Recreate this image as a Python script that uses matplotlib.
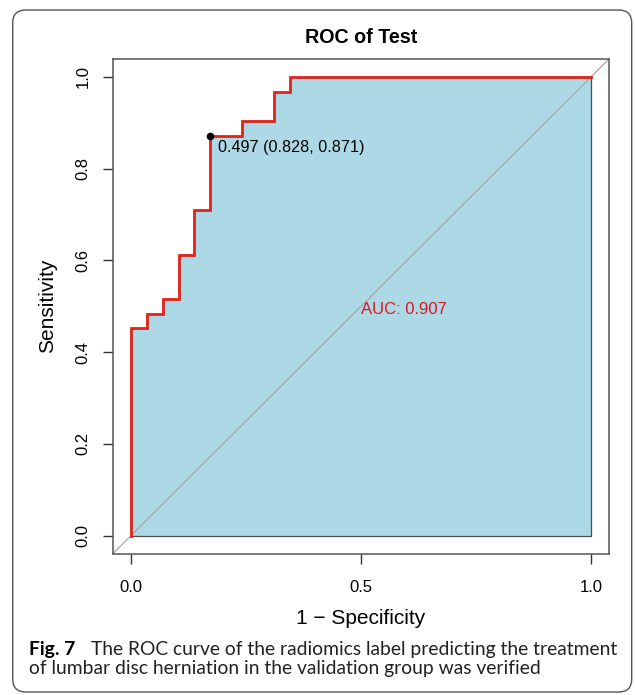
import matplotlib
matplotlib.use("Agg")
import matplotlib.pyplot as plt
from matplotlib.patches import FancyBboxPatch

# ROC steps (1 - specificity, sensitivity) for the validation set
fpr = [0.0, 0.0, 1/29, 1/29, 2/29, 2/29, 3/29, 3/29, 4/29, 4/29,
       5/29, 5/29, 7/29, 7/29, 9/29, 9/29, 10/29, 10/29, 1.0]
tpr = [0.0, 14/31, 14/31, 15/31, 15/31, 16/31, 16/31, 19/31, 19/31, 22/31,
       22/31, 27/31, 27/31, 28/31, 28/31, 30/31, 30/31, 1.0, 1.0]

auc = 0.907
best_thres = 0.497
best_spec = 0.828
best_sens = 0.871

x_ticks = [0.0, 0.5, 1.0]
y_ticks = [0.0, 0.2, 0.4, 0.6, 0.8, 1.0]

title = "ROC of Test"
caption_head = "Fig. 7"
caption_lines = ["The ROC curve of the radiomics label predicting the treatment",
                 "of lumbar disc herniation in the validation group was verified"]

plt.rcParams['font.family'] = ['Liberation Sans', 'DejaVu Sans']

W, H = 635, 695
fig = plt.figure(figsize=(W / 100, H / 100), dpi=100)
ax = fig.add_axes([112.6 / W, (H - 554) / H, 496.8 / W, 495.4 / H])

lim = (-0.04, 1.04)
ax.set_xlim(lim)
ax.set_ylim(lim)

# area under the curve
poly_x = fpr + [1.0]
poly_y = tpr + [0.0]
ax.fill(poly_x, poly_y, facecolor='#ADD8E6', edgecolor='#4d4d4d', linewidth=0.9, zorder=1)

# chance line across the whole box
ax.plot(lim, lim, color='#a6a6a6', linewidth=0.9, zorder=2)

ax.plot(fpr, tpr, color='#e2231a', linewidth=2.0, zorder=3, solid_joinstyle='miter')

ax.plot([1 - best_spec], [best_sens], 'o', color='black', markersize=4.5, zorder=4)
ax.annotate(f"{best_thres:.3f} ({best_spec:.3f}, {best_sens:.3f})",
            xy=(1 - best_spec, best_sens), xytext=(6, -8), textcoords='offset points',
            ha='left', va='center', fontsize=11.6, color='black')

ax.text(0.5, 0.492, f"AUC: {auc:.3f}", ha='left', va='center', fontsize=12, color='#d7191c')

ax.set_xticks(x_ticks)
ax.set_xticklabels([f"{t:.1f}" for t in x_ticks])
ax.set_yticks(y_ticks)
ax.set_yticklabels([f"{t:.1f}" for t in y_ticks], rotation=90, va='center')
ax.tick_params(direction='out', length=7, width=1, colors='#333333', labelcolor='black',
               labelsize=12)
ax.tick_params(axis='x', pad=11.5)
ax.tick_params(axis='y', pad=9)
for s in ax.spines.values():
    s.set_color('#555555')
    s.set_linewidth(1.1)

ax.set_xlabel("1 \u2212 Specificity", fontsize=15, labelpad=10)
ax.set_ylabel("Sensitivity", fontsize=15, labelpad=13)
ax.set_title(title, fontsize=14.2, fontweight='bold', pad=11)

# figure frame and caption
frame = FancyBboxPatch((0.127, 0.03), 6.19, 6.82, boxstyle="round,pad=0,rounding_size=0.13",
                       transform=fig.dpi_scale_trans, facecolor='none', edgecolor='#555555',
                       linewidth=1.0)
fig.patches.append(frame)

cap_font = ['Lato', 'DejaVu Sans']
fig.text(29 / W, 40 / H, caption_head, fontsize=13.9, fontweight='bold', family=cap_font,
         ha='left', va='baseline')
fig.text(91 / W, 40 / H, caption_lines[0], fontsize=13.9, family=cap_font,
         ha='left', va='baseline', color='#222222')
fig.text(29 / W, 21 / H, caption_lines[1], fontsize=13.9, family=cap_font,
         ha='left', va='baseline', color='#222222')

fig.savefig("out.png", dpi=100)
